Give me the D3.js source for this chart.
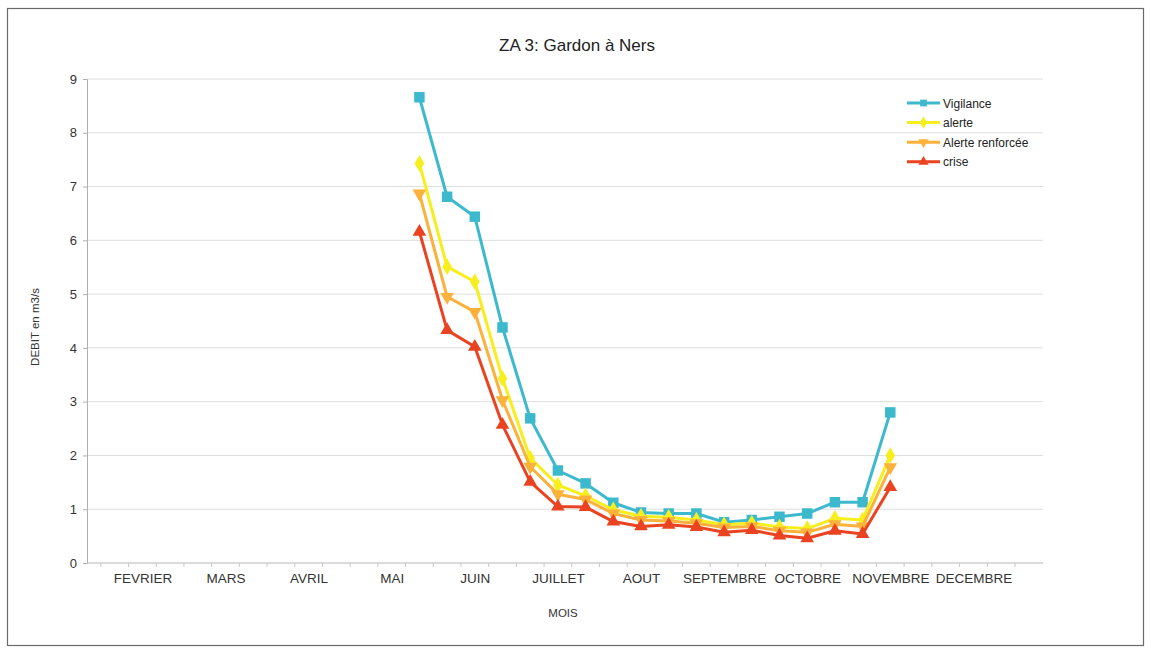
<!DOCTYPE html>
<html>
<head>
<meta charset="utf-8">
<script src="https://cdn.jsdelivr.net/npm/d3@7"></script>
<style>
  html, body { margin: 0; padding: 0; background: #fff; }
  svg { display: block; font-family: "Liberation Sans", Arial, sans-serif; }
</style>
</head>
<body>
<svg id="chart" width="1151" height="649"></svg>
<script>
// ---- data ----
const months = ["JANVIER", "FEVRIER", "MARS", "AVRIL", "MAI", "JUIN", "JUILLET", "AOUT", "SEPTEMBRE", "OCTOBRE", "NOVEMBRE", "DECEMBRE"];
const decades = ["D1", "D2", "D3"];
// axis categories: one per decade, from the 3rd decade of January
const categories = months.flatMap(m => decades.map(d => m + " " + d)).slice(2);
const tickLabels = ["FEVRIER", "MARS", "AVRIL", "MAI", "JUIN", "JUILLET", "AOUT", "SEPTEMBRE", "OCTOBRE", "NOVEMBRE", "DECEMBRE"];
const dataCategories = categories.slice(categories.indexOf("MAI D3"), categories.indexOf("NOVEMBRE D2") + 1);

const vigilance = [8.66, 6.81, 6.44, 4.38, 2.69, 1.72, 1.48, 1.12, 0.94, 0.92, 0.92, 0.76, 0.80, 0.86, 0.92, 1.13, 1.13, 2.80];
const alerte    = [7.43, 5.51, 5.23, 3.43, 1.95, 1.45, 1.25, 0.99, 0.87, 0.85, 0.80, 0.71, 0.74, 0.67, 0.64, 0.83, 0.80, 2.00];
const renforcee = [6.87, 4.95, 4.67, 3.03, 1.79, 1.28, 1.18, 0.92, 0.80, 0.78, 0.74, 0.66, 0.68, 0.60, 0.57, 0.72, 0.68, 1.78];
const crise     = [6.16, 4.33, 4.02, 2.57, 1.51, 1.05, 1.04, 0.77, 0.68, 0.71, 0.67, 0.57, 0.61, 0.51, 0.46, 0.60, 0.54, 1.41];

const seriesNames = ["Vigilance", "alerte", "Alerte renforcée", "crise"];
const yTicks = [0, 1, 2, 3, 4, 5, 6, 7, 8, 9];

// ---- layout / style ----
const colors = ["#3db9cd", "#f7ee1e", "#fbb13a", "#ea4321"];
const symbols = [d3.symbolSquare, d3.symbolDiamond, "down", d3.symbolTriangle];
const series = [vigilance, alerte, renforcee, crise];

const plotLeft = 87, plotRight = 1043, plotTop = 79, plotBottom = 563;
const step = 27.7;

const svg = d3.select("#chart");

// frame of the scanned page
svg.append("rect").attr("x", 7.5).attr("y", 8.5).attr("width", 1136).attr("height", 637)
  .attr("fill", "none").attr("stroke", "#6a6a6a").attr("stroke-width", 1.2);

const x = d3.scalePoint().domain(categories).range([plotLeft, plotLeft + step * (categories.length - 1)]);
const y = d3.scaleLinear().domain([0, 9]).range([plotBottom, plotTop]);

// gridlines
svg.append("g").selectAll("line").data(yTicks.filter(v => v > 0)).join("line")
  .attr("x1", plotLeft).attr("x2", plotRight)
  .attr("y1", d => y(d)).attr("y2", d => y(d))
  .attr("stroke", "#dedede").attr("stroke-width", 1);

// y axis
const yAxis = svg.append("g").attr("transform", `translate(${plotLeft},0)`)
  .call(d3.axisLeft(y).tickValues(yTicks).tickFormat(d3.format("d")).tickSize(4).tickPadding(6));
yAxis.select(".domain").attr("stroke", "#b0b0b0");
yAxis.selectAll(".tick line").attr("stroke", "#b0b0b0");
yAxis.selectAll("text").attr("font-size", 13).attr("fill", "#333")
  .attr("font-family", "Liberation Sans, Arial, sans-serif");

// x axis line
svg.append("line").attr("x1", plotLeft).attr("x2", plotRight).attr("y1", plotBottom).attr("y2", plotBottom)
  .attr("stroke", "#b8b8b8").attr("stroke-width", 1);
// small category ticks
svg.append("g").selectAll("line").data(categories).join("line")
  .attr("x1", d => x(d) + step / 2).attr("x2", d => x(d) + step / 2)
  .attr("y1", plotBottom).attr("y2", plotBottom + 4)
  .attr("stroke", "#c8c8c8");

const xAxis = svg.append("g").attr("transform", `translate(0,${plotBottom})`)
  .call(d3.axisBottom(x).tickValues(tickLabels.map(m => m + " D2")).tickFormat(d => d.split(" ")[0]).tickSize(0).tickPadding(10));
xAxis.select(".domain").remove();
xAxis.selectAll("text").attr("font-size", 13.5).attr("fill", "#333")
  .attr("font-family", "Liberation Sans, Arial, sans-serif");

// titles
svg.append("text").attr("x", 577).attr("y", 51).attr("text-anchor", "middle")
  .attr("font-size", 17).attr("fill", "#222").text("ZA 3: Gardon à Ners");
svg.append("text").attr("transform", "translate(39,327) rotate(-90)").attr("text-anchor", "middle")
  .attr("font-size", 11.5).attr("fill", "#333").text("DEBIT en m3/s");
svg.append("text").attr("x", 563).attr("y", 617).attr("text-anchor", "middle")
  .attr("font-size", 11.5).attr("fill", "#333").text("MOIS");

function markerPath(sym, size) {
  if (sym === "down") {
    return d3.symbol().type(d3.symbolTriangle).size(size)();
  }
  return d3.symbol().type(sym).size(size)();
}

// series
const line = d3.line().x((d, i) => x(dataCategories[i])).y(d => y(d));
series.forEach((vals, s) => {
  const g = svg.append("g");
  g.append("path").datum(vals).attr("d", line)
    .attr("fill", "none").attr("stroke", colors[s]).attr("stroke-width", 3).attr("stroke-linejoin", "round");
  g.selectAll("path.m").data(vals).join("path").attr("class", "m")
    .attr("d", markerPath(symbols[s], s === 0 ? 110 : 80))
    .attr("transform", (d, i) => `translate(${x(dataCategories[i])},${y(d)})` + (symbols[s] === "down" ? " rotate(180)" : ""))
    .attr("fill", colors[s]);
});

// legend
const legend = svg.append("g");
seriesNames.forEach((name, s) => {
  const ly = 103 + s * 19.6;
  legend.append("line").attr("x1", 907).attr("x2", 940).attr("y1", ly).attr("y2", ly)
    .attr("stroke", colors[s]).attr("stroke-width", 3);
  legend.append("path").attr("d", markerPath(symbols[s], 45))
    .attr("transform", `translate(923.5,${ly})` + (symbols[s] === "down" ? " rotate(180)" : ""))
    .attr("fill", colors[s]);
  legend.append("text").attr("x", 943).attr("y", ly + 4.5).attr("font-size", 12).attr("fill", "#222").text(name);
});
</script>
</body>
</html>
